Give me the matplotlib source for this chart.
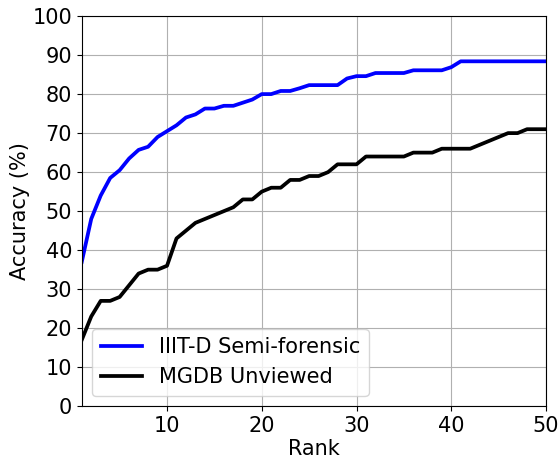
import numpy as np
import matplotlib
matplotlib.use('Agg')
import matplotlib.pyplot as plt

# Rank 1..50
ranks = np.arange(1, 51)

# IIIT-D Semi-forensic accuracy (%)
iiitd = [37, 48, 54, 58.5, 60.5, 63.5, 65.7, 66.5, 69, 70.5,
         72, 74, 74.8, 76.3, 76.3, 77, 77, 77.8, 78.6, 80,
         80, 80.8, 80.8, 81.5, 82.3, 82.3, 82.3, 82.3, 84.0, 84.6,
         84.6, 85.4, 85.4, 85.4, 85.4, 86.1, 86.1, 86.1, 86.1, 86.9,
         88.4, 88.4, 88.4, 88.4, 88.4, 88.4, 88.4, 88.4, 88.4, 88.4]

# MGDB Unviewed accuracy (%)
mgdb = [17, 23, 27, 27, 28, 31, 34, 35, 35, 36,
        43, 45, 47, 48, 49, 50, 51, 53, 53, 55,
        56, 56, 58, 58, 59, 59, 60, 62, 62, 62,
        64, 64, 64, 64, 64, 65, 65, 65, 66, 66,
        66, 66, 67, 68, 69, 70, 70, 71, 71, 71]

fig = plt.figure(figsize=(5.6, 4.59), dpi=100)
ax = fig.add_axes([0.146, 0.115, 0.829, 0.85])

ax.plot(ranks, iiitd, color='blue', linewidth=2.7, label='IIIT-D Semi-forensic')
ax.plot(ranks, mgdb, color='black', linewidth=2.7, label='MGDB Unviewed')

ax.set_xlim(1, 50)
ax.set_ylim(0, 100)
ax.set_xticks([10, 20, 30, 40, 50])
ax.set_yticks(range(0, 101, 10))
ax.tick_params(labelsize=15)
ax.set_xlabel('Rank', fontsize=15, labelpad=2)
ax.set_ylabel('Accuracy (%)', fontsize=15, labelpad=2)
ax.grid(True, color='#b0b0b0', linewidth=0.8)
ax.legend(loc='lower left', fontsize=15)

plt.savefig('out.png')
